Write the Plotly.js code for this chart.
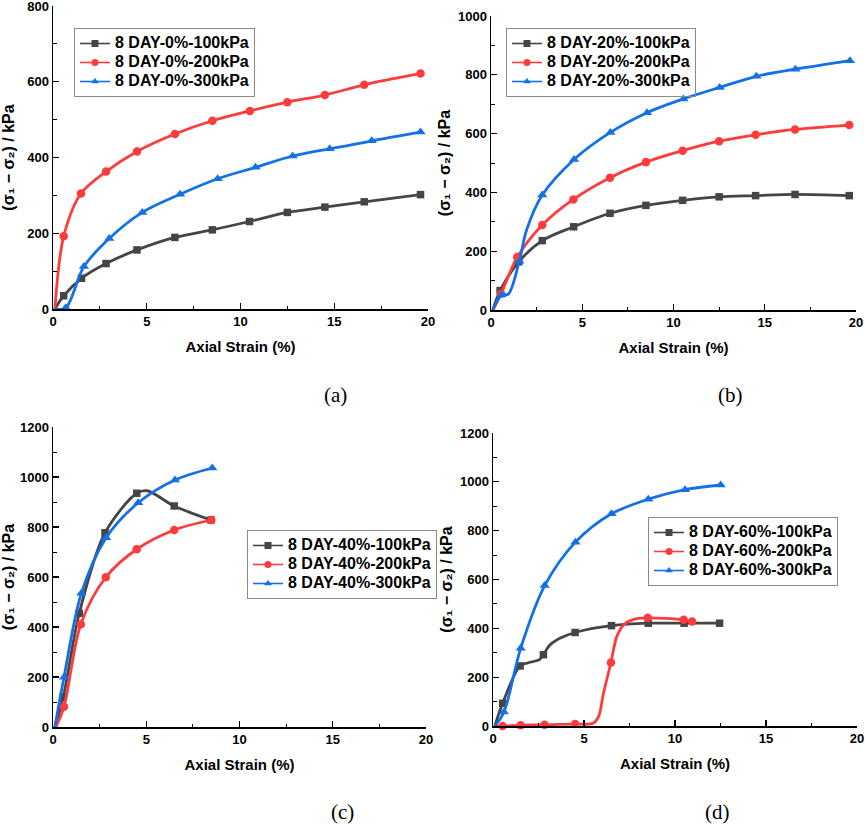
<!DOCTYPE html>
<html>
<head>
<meta charset="utf-8">
<script src="https://cdn.plot.ly/plotly-3.0.1.min.js"></script>
<style>
  html, body { margin: 0; padding: 0; background: #fff; }
  #chart { width: 865px; height: 826px; }
</style>
</head>
<body>
<div id="chart"></div>
<script>
// ---------------- DATA ----------------
// Marked data points (x = axial strain %, y = deviator stress kPa)
// plus extra points read along the drawn curve between markers.

// (a) 8 DAY-0%
const a100_x = [0.57, 1.52, 2.83, 4.48, 6.5, 8.5, 10.48, 12.5, 14.5, 16.6, 19.6];
const a100_y = [35, 81, 120, 156, 189, 209, 231, 255, 269, 283, 302];
const a100_cx = [0.1];
const a100_cy = [0];
const a200_x = [0.57, 1.49, 2.83, 4.48, 6.5, 8.5, 10.5, 12.5, 14.5, 16.6, 19.6];
const a200_y = [192, 305, 363, 416, 462, 497, 523, 546, 565, 592, 622];
const a200_cx = [0.1];
const a200_cy = [0];
const a300_x = [0.68, 1.65, 3.0, 4.76, 6.78, 8.78, 10.8, 12.78, 14.76, 17.0, 19.6];
const a300_y = [3, 112, 186, 255, 303, 344, 374, 404, 423, 444, 467];
const a300_cx = [0.1, 15.6];
const a300_cy = [0, 430];

// (b) 8 DAY-20%
const b100_x = [0.5, 1.52, 2.81, 4.53, 6.52, 8.49, 10.5, 12.5, 14.5, 16.66, 19.63];
const b100_y = [66, 164, 236, 283, 329, 356, 373, 385, 389, 393, 389];
const b100_cx = [0.1];
const b100_cy = [0];
const b200_x = [0.55, 1.44, 2.81, 4.51, 6.52, 8.49, 10.5, 12.5, 14.5, 16.66, 19.63];
const b200_y = [55, 180, 289, 376, 450, 503, 542, 574, 596, 614, 629];
const b200_cx = [0.1];
const b200_cy = [0];
const b300_x = [0.58, 1.55, 2.81, 4.55, 6.54, 8.55, 10.54, 12.53, 14.54, 16.68, 19.67];
const b300_y = [51, 166, 391, 512, 604, 671, 718, 757, 795, 819, 848];
const b300_cx = [0.1, 0.95, 1.95];
const b300_cy = [0, 54, 272];

// (c) 8 DAY-40%
const c100_x = [0.55, 1.41, 2.79, 4.49, 6.5, 8.47];
const c100_y = [120, 455, 777, 935, 884, 828];
const c100_cx = [0.1, 5.05];
const c100_cy = [0, 945];
const c200_x = [0.59, 1.49, 2.83, 4.49, 6.5, 8.49];
const c200_y = [81, 411, 599, 711, 788, 828];
const c200_cx = [0.15];
const c200_cy = [0];
const c300_x = [0.59, 1.52, 2.85, 4.57, 6.54, 8.54];
const c300_y = [199, 535, 757, 897, 988, 1036];
const c300_cx = [0.1];
const c300_cy = [0];

// (d) 8 DAY-60%
const d100_x = [0.53, 1.49, 2.77, 4.51, 6.51, 8.53, 10.5, 12.45];
const d100_y = [93, 246, 292, 383, 411, 421, 421, 421];
const d100_cx = [0.1, 2.1, 2.55, 3.1, 3.7];
const d100_cy = [0, 262, 272, 330, 360];
const d200_x = [0.53, 1.52, 2.83, 4.51, 6.48, 8.5, 10.48, 10.94];
const d200_y = [0, 3, 5, 8, 260, 443, 435, 428];
const d200_cx = [0.1, 5.5, 5.8, 6.07, 6.8, 7.17, 7.72];
const d200_cy = [0, 11, 38, 134, 366, 414, 437];
const d300_x = [0.6, 1.52, 2.84, 4.53, 6.51, 8.53, 10.55, 12.51];
const d300_y = [57, 318, 575, 753, 869, 929, 968, 987];
const d300_cx = [0.1];
const d300_cy = [0];

const seriesNames = [
  ['8 DAY-0%-100kPa', '8 DAY-0%-200kPa', '8 DAY-0%-300kPa'],
  ['8 DAY-20%-100kPa', '8 DAY-20%-200kPa', '8 DAY-20%-300kPa'],
  ['8 DAY-40%-100kPa', '8 DAY-40%-200kPa', '8 DAY-40%-300kPa'],
  ['8 DAY-60%-100kPa', '8 DAY-60%-200kPa', '8 DAY-60%-300kPa']
];
const panelLabels = ['(a)', '(b)', '(c)', '(d)'];
const yMax = [800, 1000, 1200, 1200];
const xTickVals = [0, 5, 10, 15, 20];
const xTitle = 'Axial Strain (%)';
const yTitle = '(σ₁ − σ₂) / kPa';

const panelData = [
  [[a100_x, a100_y, a100_cx, a100_cy], [a200_x, a200_y, a200_cx, a200_cy], [a300_x, a300_y, a300_cx, a300_cy]],
  [[b100_x, b100_y, b100_cx, b100_cy], [b200_x, b200_y, b200_cx, b200_cy], [b300_x, b300_y, b300_cx, b300_cy]],
  [[c100_x, c100_y, c100_cx, c100_cy], [c200_x, c200_y, c200_cx, c200_cy], [c300_x, c300_y, c300_cx, c300_cy]],
  [[d100_x, d100_y, d100_cx, d100_cy], [d200_x, d200_y, d200_cx, d200_cy], [d300_x, d300_y, d300_cx, d300_cy]]
];

// ---------------- STYLE ----------------
const W = 865, H = 826;
const FONT = 'Arial, "Liberation Sans", "DejaVu Sans", Helvetica, sans-serif';
const SERIF = '"Times New Roman", "Liberation Serif", serif';
const colors = ['#454545', '#ff3b3b', '#1470e6'];
const symbols = ['square', 'circle', 'triangle-up'];
const markerSizes = [7.5, 8.5, 9];

// pixel boxes of the four plot areas [left, right, top, bottom]
const boxes = [
  [53, 428, 6, 309],
  [491, 856, 16, 310],
  [53, 426, 427, 727],
  [493, 857, 433, 726]
];
const yStandoff = [8, 3, 7, 3];
// legend top-left pixel positions
const legendPos = [[74, 28], [506, 28], [247, 530], [648, 517]];
// panel label centers (pixels)
const labelPos = [[335, 395], [730, 395], [342, 812], [717, 812]];

function mergeSorted(x, y, cx, cy) {
  const pts = [];
  for (let i = 0; i < x.length; i++) pts.push([x[i], y[i]]);
  for (let i = 0; i < cx.length; i++) pts.push([cx[i], cy[i]]);
  pts.sort((p, q) => p[0] - q[0]);
  return [pts.map(p => p[0]), pts.map(p => p[1])];
}

const traces = [];
const layout = {
  width: W, height: H,
  margin: {l: 0, r: 0, t: 0, b: 0, pad: 0},
  paper_bgcolor: '#fff', plot_bgcolor: '#fff',
  showlegend: true,
  font: {family: FONT, color: '#000'},
  annotations: []
};

for (let p = 0; p < 4; p++) {
  const sfx = p === 0 ? '' : String(p + 1);
  const xa = 'x' + sfx, ya = 'y' + sfx;
  const lg = 'legend' + sfx;
  const b = boxes[p];

  for (let s = 0; s < 3; s++) {
    const [mx, my, cx, cy] = panelData[p][s];
    const [lx, ly] = mergeSorted(mx, my, cx, cy);
    traces.push({
      type: 'scatter', mode: 'lines', x: lx, y: ly, xaxis: xa, yaxis: ya,
      line: {color: colors[s], width: 2.8, shape: 'spline', smoothing: 0.9},
      showlegend: false, hoverinfo: 'skip', cliponaxis: false
    });
    traces.push({
      type: 'scatter', mode: 'markers', x: mx, y: my, xaxis: xa, yaxis: ya,
      marker: {color: colors[s], symbol: symbols[s], size: markerSizes[s]},
      showlegend: false, cliponaxis: false
    });
    // legend entry
    traces.push({
      type: 'scatter', mode: 'lines+markers', x: [null], y: [null], xaxis: xa, yaxis: ya,
      name: '<span style="font-size:16px">' + seriesNames[p][s] + '</span>', legend: lg,
      line: {color: colors[s], width: 1.6},
      marker: {color: colors[s], symbol: symbols[s], size: 7}
    });
  }

  const axisCommon = {
    showline: true, linecolor: '#000', linewidth: 1.5,
    showgrid: false, zeroline: false,
    ticks: 'inside', ticklen: 6, tickwidth: 1.2, tickcolor: '#000',
    tickfont: {family: FONT, size: 13, weight: 'bold', color: '#000'},
    ticklabeloverflow: 'allow',
    fixedrange: true
  };

  layout['xaxis' + sfx] = Object.assign({}, axisCommon, {
    domain: [b[0] / W, b[1] / W], anchor: ya,
    range: [0, 20], tickvals: xTickVals, ticktext: xTickVals.map(String),
    minor: {dtick: 2.5, tick0: 0, ticks: 'inside', ticklen: 3.5, tickwidth: 1, tickcolor: '#000', showgrid: false},
    title: {text: xTitle, font: {family: FONT, size: 15, weight: 'bold', color: '#000'}, standoff: 13}
  });
  layout['yaxis' + sfx] = Object.assign({}, axisCommon, {
    domain: [1 - b[3] / H, 1 - b[2] / H], anchor: xa,
    range: [0, yMax[p]], dtick: 200, tick0: 0,
    minor: {dtick: 100, tick0: 0, ticks: 'inside', ticklen: 3.5, tickwidth: 1, tickcolor: '#000', showgrid: false},
    title: {text: yTitle, font: {family: FONT, size: 16, weight: 'bold', color: '#000'}, standoff: yStandoff[p]}
  });

  layout[lg] = {
    x: legendPos[p][0] / W, y: 1 - legendPos[p][1] / H,
    xanchor: 'left', yanchor: 'top', xref: 'paper', yref: 'paper',
    bgcolor: 'rgba(255,255,255,0)', bordercolor: '#8a8a8a', borderwidth: 1,
    font: {family: FONT, size: 11.5, weight: 'bold', color: '#000'},
    tracegroupgap: 0, itemwidth: 30, traceorder: 'normal'
  };

  layout.annotations.push({
    text: panelLabels[p], xref: 'paper', yref: 'paper',
    x: labelPos[p][0] / W, y: 1 - labelPos[p][1] / H,
    xanchor: 'center', yanchor: 'middle', showarrow: false,
    font: {family: SERIF, size: 21, color: '#000'}
  });
}

Plotly.newPlot('chart', traces, layout, {staticPlot: true, displayModeBar: false});
</script>
</body>
</html>
